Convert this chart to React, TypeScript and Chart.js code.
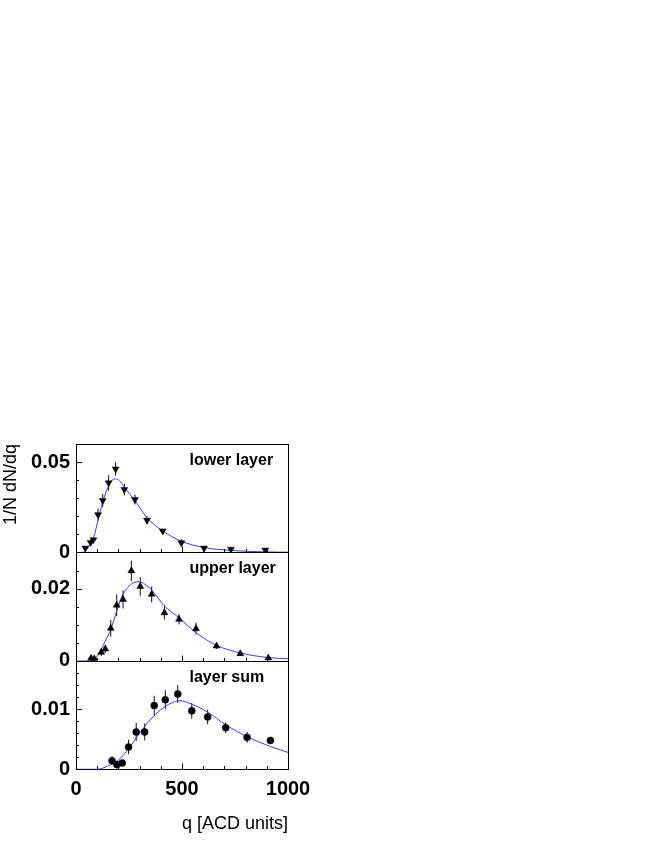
import React, { useEffect, useRef } from 'react';
import { Chart, registerables } from 'chart.js';

Chart.register(...registerables);

// ---------- data ----------
const lowerQ = [44, 69, 82, 104, 126, 154, 187, 228, 278, 335, 409, 497, 604, 731, 893];
const lowerV = [0.0024, 0.0055, 0.007, 0.0209, 0.0287, 0.0385, 0.0462, 0.0348, 0.0293, 0.0178, 0.0119, 0.0053, 0.0024, 0.0018, 0.0013];
const lowerErr = [0.0012, 0.0015, 0.0015, 0.0033, 0.0037, 0.0043, 0.0037, 0.0033, 0.0027, 0.0022, 0.0013, 0.002, 0.001, 0.0008, 0.0008];
const lowerFitQ = [0, 30, 44, 60, 82, 104, 126, 154, 170, 186, 205, 228, 278, 335, 409, 497, 604, 731, 893, 1000];
const lowerFitV = [0, 0, 0.0009, 0.0035, 0.0078, 0.0178, 0.0279, 0.037, 0.04, 0.0407, 0.0397, 0.0361, 0.0287, 0.0192, 0.0119, 0.0062, 0.0027, 0.0011, 0.0003, 0.0001];

const upperQ = [71, 86, 119, 138, 164, 192, 222, 261, 303, 357, 417, 486, 566, 663, 775, 907];
const upperV = [0.00075, 0.0006, 0.0024, 0.0033, 0.009, 0.0154, 0.017, 0.0249, 0.0206, 0.0184, 0.0133, 0.0115, 0.0089, 0.0041, 0.002, 0.0008];
const upperErr = [0.0006, 0.0006, 0.0011, 0.0011, 0.0023, 0.003, 0.0025, 0.0028, 0.0026, 0.0022, 0.0019, 0.0014, 0.0016, 0.0008, 0.0006, 0.0005];
const upperFitQ = [0, 70, 86, 100, 119, 138, 164, 192, 222, 250, 275, 299, 325, 357, 417, 486, 566, 663, 775, 907, 1000];
const upperFitV = [0, 0, 0.0003, 0.0013, 0.0031, 0.0055, 0.0087, 0.0138, 0.0184, 0.0207, 0.0217, 0.0219, 0.0212, 0.0196, 0.0152, 0.0119, 0.0078, 0.0043, 0.0022, 0.0009, 0.0006];

const sumQ = [170, 193, 218, 248, 284, 324, 369, 421, 480, 546, 621, 706, 807, 917];
const sumV = [0.00143, 0.00077, 0.00105, 0.0037, 0.0062, 0.0062, 0.0106, 0.01155, 0.0125, 0.0097, 0.0087, 0.0069, 0.0053, 0.0048];
const sumErr = [0.0007, 0.0005, 0.0005, 0.0012, 0.0015, 0.0014, 0.0016, 0.0016, 0.0015, 0.0013, 0.0012, 0.0009, 0.0009, 0.0005];
const sumFitQ = [0, 100, 150, 200, 250, 300, 350, 400, 450, 490, 546, 621, 706, 807, 917, 1000];
const sumFitV = [0, 0, 0.00055, 0.00155, 0.0035, 0.006, 0.0082, 0.0099, 0.011, 0.0114, 0.0108, 0.0095, 0.0074, 0.0054, 0.0038, 0.0028];

const panelTitles = ['lower layer', 'upper layer', 'layer sum'];
const yLabelsLower = [0, 0.05];
const yLabelsUpper = [0, 0.02];
const yLabelsSum = [0, 0.01];
const xTickValues = [0, 500, 1000];
const xTitle = 'q [ACD units]';
const yTitle = '1/N dN/dq';

// ---------- style ----------
const FONT = 'Liberation Sans, Arial, Helvetica, sans-serif';
const FIT_COLOR = '#3a3aff';

const panels = [
  { id: 'yL', max: 0.06, step: 0.01, major: [0.05], labels: yLabelsLower, weight: 3, title: panelTitles[0],
    q: lowerQ, v: lowerV, err: lowerErr, fitQ: lowerFitQ, fitV: lowerFitV, style: 'triangle', rot: 180, r: 4 },
  { id: 'yU', max: 0.03, step: 0.005, major: [0.02], labels: yLabelsUpper, weight: 2, title: panelTitles[1],
    q: upperQ, v: upperV, err: upperErr, fitQ: upperFitQ, fitV: upperFitV, style: 'triangle', rot: 0, r: 4 },
  { id: 'yS', max: 0.018, step: 0.002, major: [0.01], labels: yLabelsSum, weight: 1, title: panelTitles[2],
    q: sumQ, v: sumV, err: sumErr, fitQ: sumFitQ, fitV: sumFitV, style: 'circle', rot: 0, r: 3.5 },
];

const near = (a: number, b: number) => Math.abs(a - b) < 1e-9;

const decorPlugin = {
  id: 'decor',
  beforeDatasetsDraw(chart: any) {
    const ctx = chart.ctx;
    const xs = chart.scales.x;
    ctx.save();
    ctx.strokeStyle = '#111';
    ctx.lineWidth = 1;
    panels.forEach((p) => {
      const ys = chart.scales[p.id];
      p.q.forEach((q, i) => {
        const x = xs.getPixelForValue(q);
        const y1 = ys.getPixelForValue(p.v[i] - p.err[i]);
        const y2 = ys.getPixelForValue(p.v[i] + p.err[i]);
        ctx.beginPath();
        ctx.moveTo(x, y1);
        ctx.lineTo(x, y2);
        ctx.stroke();
      });
    });
    ctx.restore();
  },
  afterDraw(chart: any) {
    const ctx = chart.ctx;
    const xs = chart.scales.x;
    const left = Math.round(chart.chartArea.left);
    const right = Math.round(chart.chartArea.right);
    ctx.save();
    ctx.strokeStyle = '#000';
    ctx.lineWidth = 1;
    panels.forEach((p) => {
      const ys = chart.scales[p.id];
      const top = Math.round(ys.top);
      const bottom = Math.round(ys.bottom);
      ctx.strokeRect(left + 0.5, top + 0.5, right - left, bottom - top);
      // y ticks
      for (let k = 0; k * p.step <= p.max + 1e-9; k++) {
        const v = k * p.step;
        const y = Math.round(ys.getPixelForValue(v)) + 0.5;
        const isMajor = p.major.some((m) => near(m, v));
        const len = isMajor ? 6 : 3;
        ctx.beginPath();
        ctx.moveTo(left, y);
        ctx.lineTo(left + len, y);
        ctx.stroke();
      }
      // x ticks
      for (let q = 100; q < 1000; q += 100) {
        const x = Math.round(xs.getPixelForValue(q)) + 0.5;
        const len = q === 500 ? 5.5 : 3;
        ctx.beginPath();
        ctx.moveTo(x, bottom);
        ctx.lineTo(x, bottom - len);
        ctx.stroke();
      }
      // panel title
      ctx.fillStyle = '#000';
      ctx.font = `bold 16px ${FONT}`;
      ctx.textAlign = 'left';
      ctx.textBaseline = 'alphabetic';
      ctx.fillText(p.title, 189.5, ys.top + 20.7);
    });
    ctx.restore();
  },
};

export default function App() {
  const ref = useRef<HTMLCanvasElement | null>(null);

  useEffect(() => {
    if (!ref.current) return;
    const datasets: any[] = [];
    panels.forEach((p) => {
      datasets.push({
        label: p.title + ' fit',
        yAxisID: p.id,
        data: p.fitQ.map((q, i) => ({ x: q, y: p.fitV[i] })),
        showLine: true,
        borderColor: FIT_COLOR,
        borderWidth: 1,
        pointRadius: 0,
        cubicInterpolationMode: 'monotone',
        fill: false,
        order: 2,
      });
      datasets.push({
        label: p.title,
        yAxisID: p.id,
        data: p.q.map((q, i) => ({ x: q, y: p.v[i] })),
        showLine: false,
        pointStyle: p.style,
        pointRotation: p.rot,
        pointRadius: p.r,
        pointBackgroundColor: '#000',
        pointBorderColor: '#000',
        pointBorderWidth: 0.5,
        order: 1,
      });
    });

    const scales: any = {
      x: {
        type: 'linear',
        position: 'bottom',
        min: 0,
        max: 1000,
        afterBuildTicks: (axis: any) => {
          axis.ticks = xTickValues.map((v) => ({ value: v }));
        },
        ticks: {
          font: { family: FONT, size: 20, weight: 'bold' },
          color: '#000',
          padding: 8,
          maxRotation: 0,
          autoSkip: false,
          callback: (value: any) => String(value),
        },
        grid: { display: false, drawTicks: false },
        border: { display: false },
        title: {
          display: true,
          text: xTitle,
          align: 'end',
          color: '#000',
          font: { family: FONT, size: 18 },
          padding: { top: 0, bottom: 11 },
        },
        afterFit: (s: any) => {
          s.height = 846 - 769.3;
        },
      },
    };
    panels.forEach((p, idx) => {
      scales[p.id] = {
        type: 'linear',
        position: 'left',
        stack: 'panels',
        stackWeight: 1,
        weight: p.weight,
        min: 0,
        max: p.max,
        ticks: {
          stepSize: p.step,
          autoSkip: false,
          font: { family: FONT, size: 20, weight: 'bold' },
          color: '#000',
          padding: 6,
          callback: (value: any) => {
            const m = p.labels.find((l) => near(l, Number(value)));
            return m === undefined ? '' : String(m);
          },
        },
        grid: { display: false, drawTicks: false },
        border: { display: false },
        title: {
          display: idx === 0,
          text: yTitle,
          align: 'end',
          color: '#000',
          font: { family: FONT, size: 18 },
          padding: 0,
        },
        afterFit: (s: any) => {
          s.width = 76;
        },
      };
    });

    const chart = new Chart(ref.current, {
      type: 'scatter',
      data: { datasets },
      options: {
        responsive: false,
        animation: false,
        devicePixelRatio: 1,
        layout: { padding: { top: 444, right: 366, left: 0, bottom: 0 } },
        plugins: { legend: { display: false }, tooltip: { enabled: false } },
        scales,
      },
      plugins: [decorPlugin],
    } as any);
    return () => chart.destroy();
  }, []);

  return (
    <canvas
      ref={ref}
      width={654}
      height={846}
      style={{ position: 'absolute', left: 0, top: 0, width: 654, height: 846 }}
    />
  );
}
